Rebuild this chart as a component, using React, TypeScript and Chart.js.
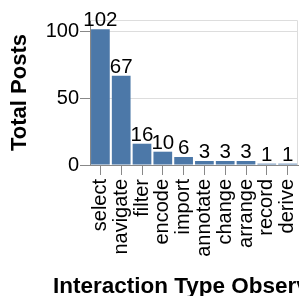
import React, { useEffect, useRef } from "react";
import { Chart, registerables } from "chart.js";

Chart.register(...registerables);

const categories = ["select", "navigate", "filter", "encode", "import", "annotate", "change", "arrange", "record", "derive"];
const totalPosts = [102, 67, 16, 10, 6, 3, 3, 3, 1, 1];
const yMax = 109;
const yTickValues = [0, 50, 100];
const xTitle = "Interaction Type Observed";
const yTitle = "Total Posts";

const FONT = "'Liberation Sans', Arial, Helvetica, sans-serif";
const CANVAS_W = 345;
const CANVAS_H = 296;
const PLOT_RIGHT = 298;

export default function App() {
  const ref = useRef<HTMLCanvasElement>(null);

  useEffect(() => {
    const canvas = ref.current;
    if (!canvas) return;

    const frame = {
      id: "frame",
      beforeDatasetsDraw(chart: any) {
        const { ctx, chartArea: a } = chart;
        ctx.save();
        ctx.strokeStyle = "#ddd";
        ctx.lineWidth = 1;
        ctx.beginPath();
        ctx.moveTo(a.left, Math.round(a.top) + 0.5);
        ctx.lineTo(Math.round(a.right) - 0.5, Math.round(a.top) + 0.5);
        ctx.lineTo(Math.round(a.right) - 0.5, a.bottom);
        ctx.stroke();
        ctx.restore();
      },
    };

    const valueLabels = {
      id: "valueLabels",
      afterDatasetsDraw(chart: any) {
        const { ctx } = chart;
        const meta = chart.getDatasetMeta(0);
        const data = chart.data.datasets[0].data as number[];
        ctx.save();
        ctx.fillStyle = "#000";
        ctx.font = `20.5px ${FONT}`;
        ctx.textAlign = "center";
        ctx.textBaseline = "alphabetic";
        meta.data.forEach((bar: any, i: number) => {
          ctx.fillText(String(data[i]), bar.x, bar.y - 3);
        });
        ctx.restore();
      },
    };

    const xAxisTitle = {
      id: "xAxisTitle",
      afterDraw(chart: any) {
        const { ctx, chartArea: a } = chart;
        ctx.save();
        ctx.fillStyle = "#000";
        ctx.font = `bold 22.5px ${FONT}`;
        ctx.textAlign = "center";
        ctx.textBaseline = "alphabetic";
        ctx.fillText(xTitle, (a.left + a.right) / 2, 293);
        ctx.restore();
      },
    };

    Chart.defaults.font.family = FONT;

    const chart = new Chart(canvas, {
      type: "bar",
      data: {
        labels: categories,
        datasets: [
          {
            data: totalPosts,
            backgroundColor: "#4c78a8",
            categoryPercentage: 1,
            barPercentage: 0.9,
          },
        ],
      },
      options: {
        animation: false,
        responsive: false,
        devicePixelRatio: 1,
        layout: { padding: { top: 20, right: CANVAS_W - PLOT_RIGHT, bottom: 0, left: 0 } },
        plugins: { legend: { display: false }, tooltip: { enabled: false } },
        scales: {
          x: {
            offset: true,
            grid: { display: true, drawOnChartArea: false, offset: false, tickLength: 10, tickColor: "#888" },
            border: { display: true, color: "#888", width: 1 },
            ticks: {
              color: "#000",
              font: { size: 20, family: FONT },
              minRotation: 90,
              maxRotation: 90,
              autoSkip: false,
              padding: 4,
            },
            title: { display: false },
            afterFit: (s: any) => {
              s.height = CANVAS_H - 165;
            },
          },
          y: {
            min: 0,
            max: yMax,
            bounds: "data",
            grid: {
              color: (c: any) => (c.tick && c.tick.value === 0 ? "rgba(0,0,0,0)" : "#ddd"),
              tickColor: "#888",
              tickLength: 10,
            },
            border: { display: true, color: "#888", width: 1 },
            ticks: {
              color: "#000",
              font: { size: 20, family: FONT },
              padding: 1,
            },
            afterBuildTicks: (s: any) => {
              s.ticks = yTickValues.map((v) => ({ value: v }));
            },
            title: {
              display: true,
              text: yTitle,
              color: "#000",
              font: { size: 22, weight: "bold", family: FONT, lineHeight: 1 },
              padding: { top: 9, bottom: 0 },
            },
            afterFit: (s: any) => {
              s.width = 90;
            },
          },
        },
      },
      plugins: [frame, valueLabels, xAxisTitle],
    } as any);

    return () => chart.destroy();
  }, []);

  return (
    <div style={{ position: "fixed", left: 0, top: 0, width: 299, height: 296, overflow: "hidden" }}>
      <canvas
        ref={ref}
        width={CANVAS_W}
        height={CANVAS_H}
        style={{ width: CANVAS_W, height: CANVAS_H, display: "block" }}
      />
    </div>
  );
}
